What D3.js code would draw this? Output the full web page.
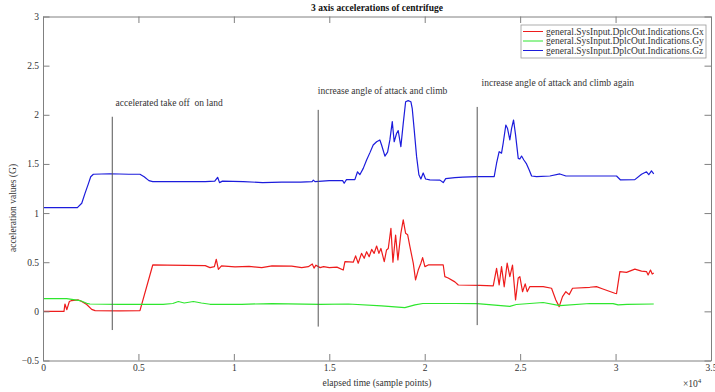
<!DOCTYPE html>
<html>
<head>
<meta charset="utf-8">
<script src="https://cdn.jsdelivr.net/npm/d3@7"></script>
<style>
  body { margin: 0; background: #fff; }
  svg { display: block; font-family: "Liberation Serif", "Times New Roman", serif; }
</style>
</head>
<body>
<div id="chart"></div>
<script>
// samples / G values
const gx = [[0,0],[1100,0],[1150,0.075],[1250,0.017],[1380,0.10],[1500,0.11],[1850,0.116],[2030,0.10],[2290,0.07],[2550,0.02],[2730,0.007],[4000,0.005],[5080,0.007],[5750,0.472],[6500,0.47],[7500,0.468],[8500,0.465],[8750,0.445],[8980,0.455],[9080,0.53],[9190,0.428],[9350,0.462],[10060,0.452],[10800,0.458],[11460,0.445],[12000,0.462],[13030,0.46],[13555,0.445],[13900,0.455],[14110,0.482],[14200,0.44],[14300,0.47],[14520,0.445],[14700,0.455],[15000,0.445],[15400,0.45],[15730,0.42],[15820,0.506],[16255,0.5],[16380,0.564],[16515,0.49],[16690,0.59],[16830,0.54],[16955,0.607],[17090,0.556],[17220,0.63],[17350,0.59],[17480,0.665],[17600,0.59],[17705,0.64],[17880,0.506],[18000,0.625],[18090,0.64],[18230,0.845],[18335,0.5],[18475,0.777],[18595,0.523],[18750,0.794],[18875,0.93],[19000,0.794],[19105,0.78],[19225,0.658],[19400,0.49],[19520,0.32],[19660,0.42],[19800,0.49],[19890,0.547],[20010,0.455],[20185,0.472],[20970,0.472],[21055,0.353],[21230,0.34],[21580,0.30],[21760,0.268],[22890,0.265],[23590,0.26],[23765,0.438],[23900,0.27],[24025,0.455],[24165,0.25],[24320,0.49],[24460,0.353],[24600,0.47],[24760,0.116],[24900,0.34],[24985,0.353],[25125,0.2],[25265,0.28],[25370,0.2],[25510,0.252],[26205,0.252],[26645,0.235],[26870,0.116],[27045,0.048],[27220,0.15],[27395,0.2],[27570,0.17],[27745,0.235],[28650,0.245],[29000,0.252],[29300,0.23],[29960,0.184],[30050,0.18],[30225,0.404],[30575,0.397],[31010,0.43],[31360,0.41],[31620,0.405],[31705,0.37],[31830,0.42],[31920,0.38],[32000,0.39]];

const gy = [[0,0.13],[1240,0.13],[1600,0.12],[1940,0.11],[2290,0.082],[2460,0.075],[4000,0.072],[6290,0.072],[6800,0.08],[7090,0.10],[7400,0.085],[7880,0.10],[8300,0.085],[8750,0.072],[10410,0.072],[12000,0.079],[14520,0.072],[16000,0.075],[17740,0.055],[18960,0.038],[19490,0.066],[19900,0.08],[21580,0.08],[22750,0.078],[24460,0.05],[24800,0.07],[26205,0.09],[27080,0.058],[28650,0.08],[29870,0.078],[30135,0.066],[30600,0.072],[32000,0.075]];

const gz = [[0,1.055],[1800,1.055],[2030,1.10],[2200,1.20],[2380,1.30],[2500,1.37],[2640,1.395],[3500,1.40],[4500,1.395],[5080,1.395],[5300,1.37],[5550,1.33],[5750,1.32],[7000,1.32],[8500,1.32],[9000,1.325],[9150,1.364],[9250,1.31],[9400,1.325],[10500,1.32],[11500,1.31],[12500,1.315],[13500,1.315],[14100,1.32],[14165,1.335],[14250,1.32],[15000,1.33],[15700,1.33],[15780,1.303],[15900,1.34],[16340,1.34],[16480,1.42],[16600,1.39],[16780,1.455],[16955,1.54],[17130,1.615],[17300,1.693],[17480,1.726],[17650,1.744],[17740,1.693],[17915,1.58],[18055,1.62],[18175,1.744],[18300,1.93],[18400,1.726],[18525,1.81],[18610,1.84],[18750,1.676],[18875,1.913],[19000,2.133],[19135,2.144],[19275,2.133],[19345,2.066],[19450,1.846],[19575,1.574],[19695,1.39],[19800,1.347],[19920,1.408],[20045,1.347],[20270,1.337],[20800,1.335],[20970,1.31],[21100,1.35],[21580,1.36],[22000,1.365],[22750,1.37],[23640,1.37],[23765,1.507],[23900,1.625],[24025,1.61],[24110,1.71],[24250,1.896],[24340,1.86],[24460,1.744],[24550,1.86],[24655,1.947],[24760,1.795],[24900,1.557],[24985,1.55],[25075,1.58],[25195,1.54],[25335,1.50],[25475,1.438],[25600,1.377],[25860,1.37],[26560,1.377],[27080,1.398],[27400,1.377],[28650,1.377],[30050,1.377],[30260,1.337],[31010,1.34],[31360,1.395],[31620,1.42],[31740,1.39],[31880,1.43],[32000,1.40]];

const seriesNames = ["general.SysInput.DplcOut.Indications.Gx", "general.SysInput.DplcOut.Indications.Gy", "general.SysInput.DplcOut.Indications.Gz"];
const seriesColors = ["#ee1c1c", "#2ee62e", "#1c1cdc"];

// event markers: x sample, top/bottom of the line, label position
const eventX = [3630, 14420, 22750];
const eventTop = [1.98, 2.05, 2.08];
const eventBottom = [-0.19, -0.155, -0.14];
const eventLabels = ["accelerated take off  on land", "increase angle of attack and climb", "increase angle of attack and climb again"];
const labelX = [3800, 14400, 22980];
const labelY = [2.09, 2.21, 2.29];

const xTicks = [0, 5000, 10000, 15000, 20000, 25000, 30000, 35000];
const yTicks = [-0.5, 0, 0.5, 1, 1.5, 2, 2.5, 3];

const W = 715, H = 392;
const margin = { top: 16.5, right: 4, bottom: 31.5, left: 43 };
const width = W - margin.left - margin.right;
const height = H - margin.top - margin.bottom;
const axisCol = "#808080", textCol = "#333";
const tickLen = 6.5;

const svg = d3.select("#chart").append("svg")
  .attr("width", W)
  .attr("height", H);

const g = svg.append("g")
  .attr("transform", "translate(" + margin.left + "," + margin.top + ")");

const x = d3.scaleLinear().domain([0, 35000]).range([0, width]);
const y = d3.scaleLinear().domain([-0.5, 3]).range([height, 0]);

// plot lines
const line = d3.line().x(d => x(d[0])).y(d => y(d[1]));
[gx, gy, gz].forEach((s, i) => {
  g.append("path")
    .attr("d", line(s))
    .attr("fill", "none")
    .attr("stroke", seriesColors[i])
    .attr("stroke-width", 1.2)
    .attr("stroke-linejoin", "round");
});

// event lines + labels
eventX.forEach((ex, i) => {
  g.append("line")
    .attr("x1", x(ex)).attr("x2", x(ex))
    .attr("y1", y(eventTop[i])).attr("y2", y(eventBottom[i]))
    .attr("stroke", "#555").attr("stroke-width", 1);
  g.append("text")
    .attr("x", x(labelX[i])).attr("y", y(labelY[i]))
    .attr("font-size", "9.5px")
    .attr("fill", textCol)
    .style("white-space", "pre")
    .text(eventLabels[i]);
});

// axes (box with inward ticks on all sides)
const fmtX = d => d3.format("")(d / 10000);
const bottomAxis = d3.axisBottom(x).tickValues(xTicks).tickFormat(fmtX).tickSizeInner(-tickLen).tickSizeOuter(0).tickPadding(4);
const topAxis = d3.axisTop(x).tickValues(xTicks).tickFormat("").tickSizeInner(-tickLen).tickSizeOuter(0);
const leftAxis = d3.axisLeft(y).tickValues(yTicks).tickFormat(d3.format("")).tickSizeInner(-tickLen).tickSizeOuter(0).tickPadding(4);
const rightAxis = d3.axisRight(y).tickValues(yTicks).tickFormat("").tickSizeInner(-tickLen).tickSizeOuter(0);

function styleAxis(sel) {
  sel.select(".domain").attr("stroke", axisCol);
  sel.selectAll(".tick line").attr("stroke", axisCol);
  sel.selectAll("text").attr("fill", textCol).attr("font-size", "9.5px").attr("font-family", "Liberation Serif, serif");
}

g.append("g").attr("transform", "translate(0," + height + ")").call(bottomAxis).call(styleAxis);
g.append("g").call(topAxis).call(styleAxis);
g.append("g").call(leftAxis).call(styleAxis);
g.append("g").attr("transform", "translate(" + width + ",0)").call(rightAxis).call(styleAxis);

// exponent label
const expo = g.append("text")
  .attr("x", width - 28).attr("y", height + 26)
  .attr("font-size", "9.5px").attr("fill", textCol);
expo.append("tspan").text("\u00d710");
expo.append("tspan").attr("dy", -4).attr("font-size", "7px").text("4");

// title + axis labels
svg.append("text")
  .attr("x", margin.left + width / 2).attr("y", 11)
  .attr("text-anchor", "middle")
  .attr("font-size", "9.5px").attr("font-weight", "bold").attr("fill", "#111")
  .text("3 axis accelerations of centrifuge");

svg.append("text")
  .attr("x", margin.left + width / 2).attr("y", 386)
  .attr("text-anchor", "middle")
  .attr("font-size", "9.5px").attr("fill", textCol)
  .text("elapsed time (sample points)");

svg.append("text")
  .attr("transform", "translate(16,208) rotate(-90)")
  .attr("text-anchor", "middle")
  .attr("font-size", "9.5px").attr("fill", textCol)
  .text("acceleration values (G)");

// legend
const lg = svg.append("g").attr("transform", "translate(521,25)");
lg.append("rect")
  .attr("width", 185).attr("height", 33)
  .attr("fill", "#fff").attr("stroke", "#999").attr("stroke-width", 0.8);
seriesNames.forEach((name, i) => {
  const ly = 6.5 + i * 9.5;
  lg.append("line")
    .attr("x1", 2).attr("x2", 22).attr("y1", ly).attr("y2", ly)
    .attr("stroke", seriesColors[i]).attr("stroke-width", 1);
  lg.append("text")
    .attr("x", 25).attr("y", ly + 3.2)
    .attr("font-size", "9.5px").attr("fill", textCol)
    .text(name);
});
</script>
</body>
</html>
